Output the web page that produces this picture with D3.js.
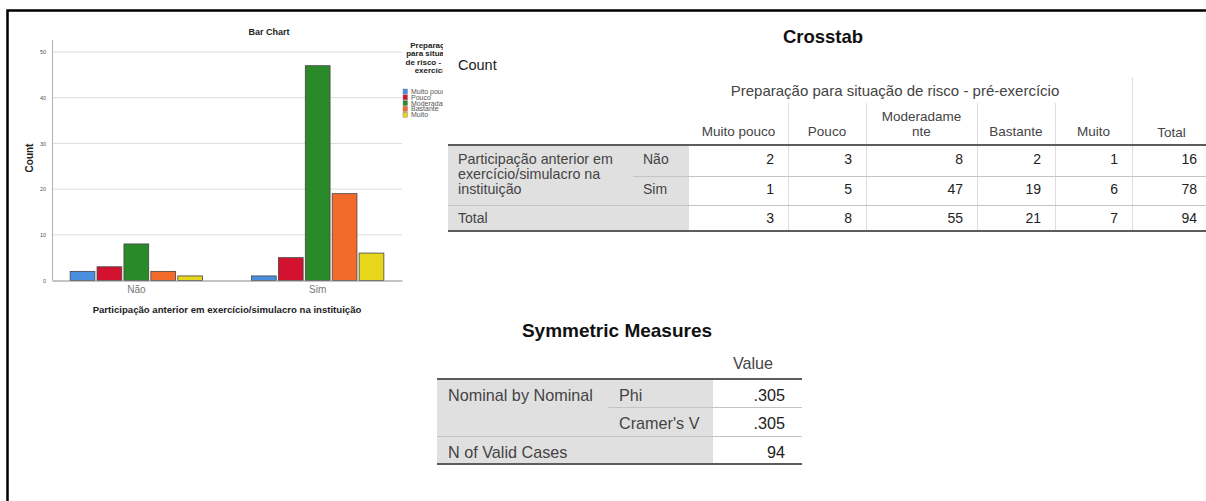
<!DOCTYPE html>
<html>
<head>
<meta charset="utf-8">
<script src="https://cdn.jsdelivr.net/npm/d3@7"></script>
<style>
  body { margin: 0; background: #fff; }
  svg { display: block; font-family: "Liberation Sans", Arial, sans-serif; }
</style>
</head>
<body>
<svg id="output_svg" width="1206" height="501"></svg>
<script>
var groups = ["Não", "Sim"];
var categories = ["Muito pouco", "Pouco", "Moderadamente", "Bastante", "Muito"];
var naoCounts = [2, 3, 8, 2, 1];
var simCounts = [1, 5, 47, 19, 6];
var yTicks = [0, 10, 20, 30, 40, 50];
var barColors = ["#4a8fdf", "#d2122e", "#2a8a2a", "#f26b2a", "#e6d71c"];

var legendTitle = ["Preparação", "para situação", "de risco - pré-", "exercício"];
var colHeaderLines = [["Muito pouco"], ["Pouco"], ["Moderadame", "nte"], ["Bastante"], ["Muito"]];
var rowVarLines = ["Participação anterior em", "exercício/simulacro na", "instituição"];

var measureGroup = "Nominal by Nominal";
var measureNames = ["Phi", "Cramer's V"];
var measureValues = [".305", ".305"];
var validCases = 94;

var groupCounts = [naoCounts, simCounts];

var svg = d3.select("#output_svg");

// page frame (left + top only)
svg.append("path")
	.attr("d", "M7.5,501V10.5H1206")
	.attr("fill", "none")
	.attr("stroke", "#000")
	.attr("stroke-width", 2.5);

function barChart() {
	var plot = {left: 52, right: 402, top: 40, bottom: 280.5};

	var x0 = d3.scaleBand().domain(groups).range([plot.left, plot.right])
			.paddingInner(0.27).paddingOuter(0.1),
		x1 = d3.scaleBand().domain(categories).range([0, x0.bandwidth()]).paddingInner(0.08),
		y = d3.scaleLinear().domain([0, 50]).range([plot.bottom, 52]),
		color = d3.scaleOrdinal(categories, barColors);

	var g = svg.append("g");

	g.append("text")
		.attr("x", 269).attr("y", 32).attr("dy", "0.35em")
		.attr("text-anchor", "middle")
		.style("font-size", "9px").style("font-weight", "bold").attr("fill", "#222")
		.text("Bar Chart");

	// gridlines
	g.selectAll(".grid")
		.data(yTicks.filter(function(t) { return t > 0; }))
	  .enter().append("line")
		.attr("x1", plot.left).attr("x2", plot.right)
		.attr("y1", function(d) { return y(d); })
		.attr("y2", function(d) { return y(d); })
		.attr("stroke", "#dcdcdc").attr("stroke-width", 1);

	// y axis
	var yAxis = g.append("g")
		.attr("transform", "translate(" + plot.left + ",0)")
		.call(d3.axisLeft(y).tickValues(yTicks).tickSize(0).tickPadding(6));
	yAxis.select(".domain").remove();
	yAxis.selectAll("text").style("font-size", "5.5px").attr("fill", "#555");
	g.append("line")
		.attr("x1", plot.left + 0.5).attr("x2", plot.left + 0.5)
		.attr("y1", plot.top).attr("y2", plot.bottom)
		.attr("stroke", "#b0b0b0");

	g.append("text")
		.attr("transform", "translate(29,158) rotate(-90)")
		.attr("dy", "0.35em")
		.attr("text-anchor", "middle")
		.style("font-size", "10px").style("font-weight", "bold").attr("fill", "#222")
		.text("Count");

	// bars
	var grp = g.selectAll(".group")
		.data(groups)
	  .enter().append("g")
		.attr("transform", function(d) { return "translate(" + x0(d) + ",0)"; });

	grp.selectAll("rect")
		.data(function(d, i) {
			return categories.map(function(c, j) { return {cat: c, value: groupCounts[i][j]}; });
		})
	  .enter().append("rect")
		.attr("x", function(d) { return x1(d.cat); })
		.attr("y", function(d) { return y(d.value); })
		.attr("width", x1.bandwidth())
		.attr("height", function(d) { return y(0) - y(d.value); })
		.attr("fill", function(d) { return color(d.cat); })
		.attr("stroke", "#444").attr("stroke-width", 0.8);

	// x axis
	var xAxis = g.append("g")
		.attr("transform", "translate(0," + plot.bottom + ")")
		.call(d3.axisBottom(x0).tickSize(0).tickSizeOuter(0).tickPadding(5));
	xAxis.select(".domain").attr("stroke", "#888");
	xAxis.selectAll("text").style("font-size", "10px").attr("fill", "#777");

	g.append("text")
		.attr("x", 227).attr("y", 310).attr("dy", "0.35em")
		.attr("text-anchor", "middle")
		.style("font-size", "9.6px").style("font-weight", "bold").attr("fill", "#222")
		.text("Participação anterior em exercício/simulacro na instituição");

	// legend, clipped by the crosstab panel
	svg.append("clipPath").attr("id", "legendClip")
	  .append("rect").attr("x", 395).attr("y", 30).attr("width", 48).attr("height", 100);

	var leg = g.append("g").attr("clip-path", "url(#legendClip)");

	leg.selectAll(".ltitle")
		.data(legendTitle)
	  .enter().append("text")
		.attr("x", 432)
		.attr("y", function(d, i) { return 45 + i * 8.5; })
		.attr("dy", "0.35em")
		.attr("text-anchor", "middle")
		.style("font-size", "8px").style("font-weight", "bold").attr("fill", "#222")
		.text(function(d) { return d; });

	var item = leg.selectAll(".litem")
		.data(categories)
	  .enter().append("g")
		.attr("transform", function(d, i) { return "translate(403," + (91.5 + i * 5.8) + ")"; });

	item.append("rect")
		.attr("x", 0).attr("y", -2.5).attr("width", 4.5).attr("height", 5)
		.attr("fill", function(d) { return color(d); })
		.attr("stroke", "#777").attr("stroke-width", 0.4);

	item.append("text")
		.attr("x", 8).attr("dy", "0.35em")
		.style("font-size", "7px").attr("fill", "#555")
		.text(function(d) { return d; });
}

function crosstab() {
	var cols = [448, 633, 689, 788, 866, 977, 1055, 1132, 1211],
		rows = [145, 176, 205, 231],
		pad = 14;

	var rowTotals = [d3.sum(naoCounts), d3.sum(simCounts)];
	var colTotals = categories.map(function(c, j) { return naoCounts[j] + simCounts[j]; });
	var tableRows = [
		naoCounts.concat([rowTotals[0]]),
		simCounts.concat([rowTotals[1]]),
		colTotals.concat([d3.sum(rowTotals)])
	];

	var g = svg.append("g");

	g.append("text")
		.attr("x", 823).attr("y", 37).attr("dy", "0.35em")
		.attr("text-anchor", "middle")
		.style("font-size", "18.5px").style("font-weight", "bold").attr("fill", "#111")
		.text("Crosstab");

	g.append("text")
		.attr("x", 458).attr("y", 65).attr("dy", "0.35em")
		.style("font-size", "14.5px").attr("fill", "#222")
		.text("Count");

	// gray label block
	g.append("rect")
		.attr("x", cols[0]).attr("y", rows[0])
		.attr("width", cols[2] - cols[0]).attr("height", rows[3] - rows[0])
		.attr("fill", "#e0e0e0");

	// header
	g.append("text")
		.attr("x", 895).attr("y", 91).attr("dy", "0.35em")
		.attr("text-anchor", "middle")
		.style("font-size", "15px").attr("fill", "#444")
		.text("Preparação para situação de risco - pré-exercício");

	g.append("line")
		.attr("x1", cols[7] + 0.5).attr("x2", cols[7] + 0.5)
		.attr("y1", 77).attr("y2", rows[0])
		.attr("stroke", "#dedede");

	g.selectAll(".hsep")
		.data(cols.slice(3, 7))
	  .enter().append("line")
		.attr("x1", function(d) { return d + 0.5; })
		.attr("x2", function(d) { return d + 0.5; })
		.attr("y1", 103).attr("y2", rows[0])
		.attr("stroke", "#dedede");

	var hdr = g.selectAll(".colhdr")
		.data(colHeaderLines)
	  .enter().append("g");

	hdr.selectAll("text")
		.data(function(d) { return d.map(function(t, k) { return {t: t, k: k, n: d.length}; }); })
	  .enter().append("text")
		.attr("x", function() {
			var j = colHeaderLines.indexOf(d3.select(this.parentNode).datum());
			return (cols[2 + j] + cols[3 + j]) / 2;
		})
		.attr("y", function(d) { return 131 - (d.n - 1 - d.k) * 15; })
		.attr("dy", "0.35em")
		.attr("text-anchor", "middle")
		.style("font-size", "13.5px").attr("fill", "#444")
		.text(function(d) { return d.t; });

	g.append("text")
		.attr("x", (cols[7] + cols[8]) / 2).attr("y", 132).attr("dy", "0.35em")
		.attr("text-anchor", "middle")
		.style("font-size", "13.5px").attr("fill", "#444")
		.text("Total");

	// body grid
	g.selectAll(".vsep")
		.data(cols.slice(3, 8))
	  .enter().append("line")
		.attr("x1", function(d) { return d + 0.5; })
		.attr("x2", function(d) { return d + 0.5; })
		.attr("y1", rows[0]).attr("y2", rows[3])
		.attr("stroke", "#dedede");

	g.append("line")
		.attr("x1", cols[1]).attr("x2", cols[8])
		.attr("y1", rows[1] + 0.5).attr("y2", rows[1] + 0.5)
		.attr("stroke", "#c4c4c4");
	g.append("line")
		.attr("x1", cols[0]).attr("x2", cols[8])
		.attr("y1", rows[2] + 0.5).attr("y2", rows[2] + 0.5)
		.attr("stroke", "#c4c4c4");

	g.selectAll(".thick")
		.data([rows[0], rows[3]])
	  .enter().append("line")
		.attr("x1", cols[0]).attr("x2", cols[8])
		.attr("y1", function(d) { return d; }).attr("y2", function(d) { return d; })
		.attr("stroke", "#5c5c5c").attr("stroke-width", 2);

	// row labels
	g.selectAll(".rowvar")
		.data(rowVarLines)
	  .enter().append("text")
		.attr("x", 458)
		.attr("y", function(d, i) { return 159 + i * 15; })
		.attr("dy", "0.35em")
		.style("font-size", "14.3px").attr("fill", "#444")
		.text(function(d) { return d; });

	var rowY = [159, 189, 218];

	g.selectAll(".grp")
		.data(groups)
	  .enter().append("text")
		.attr("x", 643)
		.attr("y", function(d, i) { return rowY[i]; })
		.attr("dy", "0.35em")
		.style("font-size", "14px").attr("fill", "#444")
		.text(function(d) { return d; });

	g.append("text")
		.attr("x", 458).attr("y", rowY[2]).attr("dy", "0.35em")
		.style("font-size", "14px").attr("fill", "#444")
		.text("Total");

	// cell values
	tableRows.forEach(function(r, i) {
		g.selectAll(".cell" + i)
			.data(r)
		  .enter().append("text")
			.attr("x", function(d, j) { return cols[3 + j] - pad; })
			.attr("y", rowY[i])
			.attr("dy", "0.35em")
			.attr("text-anchor", "end")
			.style("font-size", "14px").attr("fill", "#222")
			.text(function(d) { return d; });
	});
}

function symmetricMeasures() {
	var cols = [437, 608, 713, 802],
		rowY = [395, 423, 452];

	var g = svg.append("g");

	g.append("text")
		.attr("x", 617).attr("y", 330).attr("dy", "0.35em")
		.attr("text-anchor", "middle")
		.style("font-size", "19px").style("font-weight", "bold").attr("fill", "#111")
		.text("Symmetric Measures");

	g.append("text")
		.attr("x", 753).attr("y", 363).attr("dy", "0.35em")
		.attr("text-anchor", "middle")
		.style("font-size", "16.2px").attr("fill", "#444")
		.text("Value");

	g.append("rect")
		.attr("x", cols[0]).attr("y", 379)
		.attr("width", cols[2] - cols[0]).attr("height", 464 - 379)
		.attr("fill", "#e0e0e0");

	g.append("line")
		.attr("x1", cols[1]).attr("x2", cols[3])
		.attr("y1", 407.5).attr("y2", 407.5)
		.attr("stroke", "#c4c4c4");
	g.append("line")
		.attr("x1", cols[0]).attr("x2", cols[3])
		.attr("y1", 436.5).attr("y2", 436.5)
		.attr("stroke", "#c4c4c4");

	g.selectAll(".thick")
		.data([379, 464])
	  .enter().append("line")
		.attr("x1", cols[0]).attr("x2", cols[3])
		.attr("y1", function(d) { return d; }).attr("y2", function(d) { return d; })
		.attr("stroke", "#5c5c5c").attr("stroke-width", 2);

	g.append("text")
		.attr("x", 448).attr("y", rowY[0]).attr("dy", "0.35em")
		.style("font-size", "16.2px").attr("fill", "#444")
		.text(measureGroup);

	g.selectAll(".mname")
		.data(measureNames)
	  .enter().append("text")
		.attr("x", 619)
		.attr("y", function(d, i) { return rowY[i]; })
		.attr("dy", "0.35em")
		.style("font-size", "16.2px").attr("fill", "#444")
		.text(function(d) { return d; });

	g.append("text")
		.attr("x", 448).attr("y", rowY[2]).attr("dy", "0.35em")
		.style("font-size", "16.2px").attr("fill", "#444")
		.text("N of Valid Cases");

	g.selectAll(".mval")
		.data(measureValues.concat([validCases]))
	  .enter().append("text")
		.attr("x", 785)
		.attr("y", function(d, i) { return rowY[i]; })
		.attr("dy", "0.35em")
		.attr("text-anchor", "end")
		.style("font-size", "16.2px").attr("fill", "#222")
		.text(function(d) { return d; });
}

barChart();
crosstab();
symmetricMeasures();
</script>
</body>
</html>
